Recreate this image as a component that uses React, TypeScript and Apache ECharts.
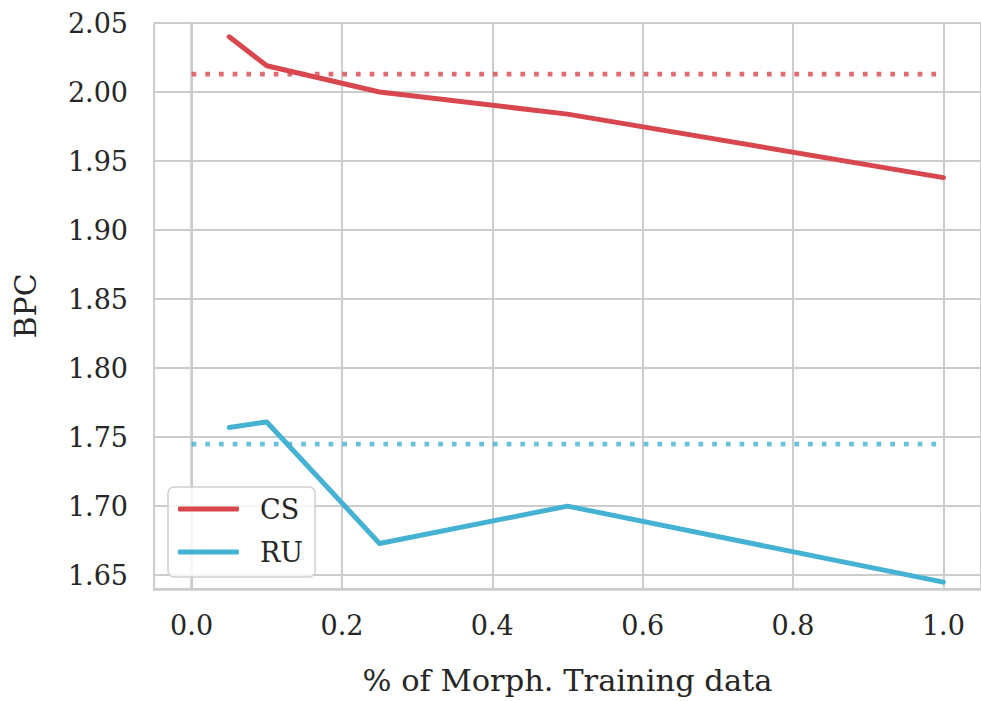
import React, { useEffect, useRef } from 'react';
import * as echarts from 'echarts';

// Data
const xValues = [0.05, 0.1, 0.25, 0.5, 1.0];
const csValues = [2.040, 2.019, 2.000, 1.984, 1.938];
const ruValues = [1.757, 1.761, 1.673, 1.700, 1.645];
const baselineX = [0, 1];
const csBaseline = 2.013;
const ruBaseline = 1.745;
const seriesNames = ['CS', 'RU'];
const xAxisName = '% of Morph. Training data';
const yAxisName = 'BPC';

const RED = '#d8474e';
const BLUE = '#45b2d3';
const TEXT = '#262626';
const GRID = '#cccccc';
const FONT = 'DejaVu Serif';

export default function App() {
  const ref = useRef<HTMLDivElement>(null);
  useEffect(() => {
    document.body.style.margin = '0';
    const chart = echarts.init(ref.current!, undefined, { renderer: 'svg' });
    const pairs = (xs: number[], ys: number[]) => xs.map((x, i) => [x, ys[i]]);
    const option: any = {
      animation: false,
      backgroundColor: '#ffffff',
      textStyle: { fontFamily: FONT, color: TEXT },
      grid: { left: 154, top: 23, width: 831, height: 570, containLabel: false },
      xAxis: {
        type: 'value',
        min: -0.05,
        max: 1.05,
        splitNumber: 5,
        minInterval: 0.2,
        maxInterval: 0.2,
        name: xAxisName,
        nameLocation: 'middle',
        nameGap: 76,
        nameTextStyle: { fontFamily: FONT, fontSize: 30.5, color: TEXT },
        axisLine: { show: true, lineStyle: { color: GRID, width: 2.5 } },
        axisTick: { show: false },
        axisLabel: {
          showMinLabel: false,
          showMaxLabel: false,
          margin: 23,
          fontFamily: FONT,
          fontSize: 27,
          color: TEXT,
          formatter: (v: number) => v.toFixed(1),
        },
        splitLine: { show: true, lineStyle: { color: GRID, width: 2 } },
      },
      yAxis: {
        type: 'value',
        min: 1.64,
        max: 2.05,
        splitNumber: 8,
        minInterval: 0.05,
        maxInterval: 0.05,
        name: yAxisName,
        nameLocation: 'middle',
        nameGap: 114,
        nameTextStyle: { fontFamily: FONT, fontSize: 30, color: TEXT },
        axisLine: { show: true, lineStyle: { color: GRID, width: 2.5 } },
        axisTick: { show: false },
        axisLabel: {
          showMinLabel: false,
          margin: 26,
          fontFamily: FONT,
          fontSize: 27,
          color: TEXT,
          formatter: (v: number) => v.toFixed(2),
        },
        splitLine: { show: true, lineStyle: { color: GRID, width: 2 } },
      },
      legend: {
        data: seriesNames,
        orient: 'vertical',
        left: 168,
        top: 487,
        icon: 'roundRect',
        itemWidth: 61,
        itemHeight: 5,
        itemGap: 13,
        padding: [7, 12, 10, 10],
        backgroundColor: 'rgba(255,255,255,0.8)',
        borderColor: '#d0d0d0',
        borderWidth: 1.5,
        borderRadius: 6,
        textStyle: {
          fontFamily: FONT,
          fontSize: 27,
          color: TEXT,
          lineHeight: 30,
          padding: [0, 0, 0, 16],
        },
      },
      series: [
        {
          name: seriesNames[0],
          type: 'line',
          color: RED,
          data: pairs(xValues, csValues),
          symbol: 'none',
          lineStyle: { color: RED, width: 5, cap: 'round', join: 'round' },
          z: 3,
        },
        {
          name: seriesNames[1],
          type: 'line',
          color: BLUE,
          data: pairs(xValues, ruValues),
          symbol: 'none',
          lineStyle: { color: BLUE, width: 5, cap: 'round', join: 'round' },
          z: 3,
        },
        {
          name: 'CS baseline',
          type: 'line',
          data: pairs(baselineX, [csBaseline, csBaseline]),
          symbol: 'none',
          lineStyle: { color: RED, width: 4.7, type: [4.7, 9], cap: 'butt', opacity: 0.8 },
          z: 2,
        },
        {
          name: 'RU baseline',
          type: 'line',
          data: pairs(baselineX, [ruBaseline, ruBaseline]),
          symbol: 'none',
          lineStyle: { color: BLUE, width: 4.7, type: [4.7, 9], cap: 'butt', opacity: 0.8 },
          z: 2,
        },
      ],
    };
    chart.setOption(option);
    return () => chart.dispose();
  }, []);
  return (
    <div
      ref={ref}
      style={{ position: 'absolute', left: 0, top: 0, width: 981, height: 701 }}
    />
  );
}
